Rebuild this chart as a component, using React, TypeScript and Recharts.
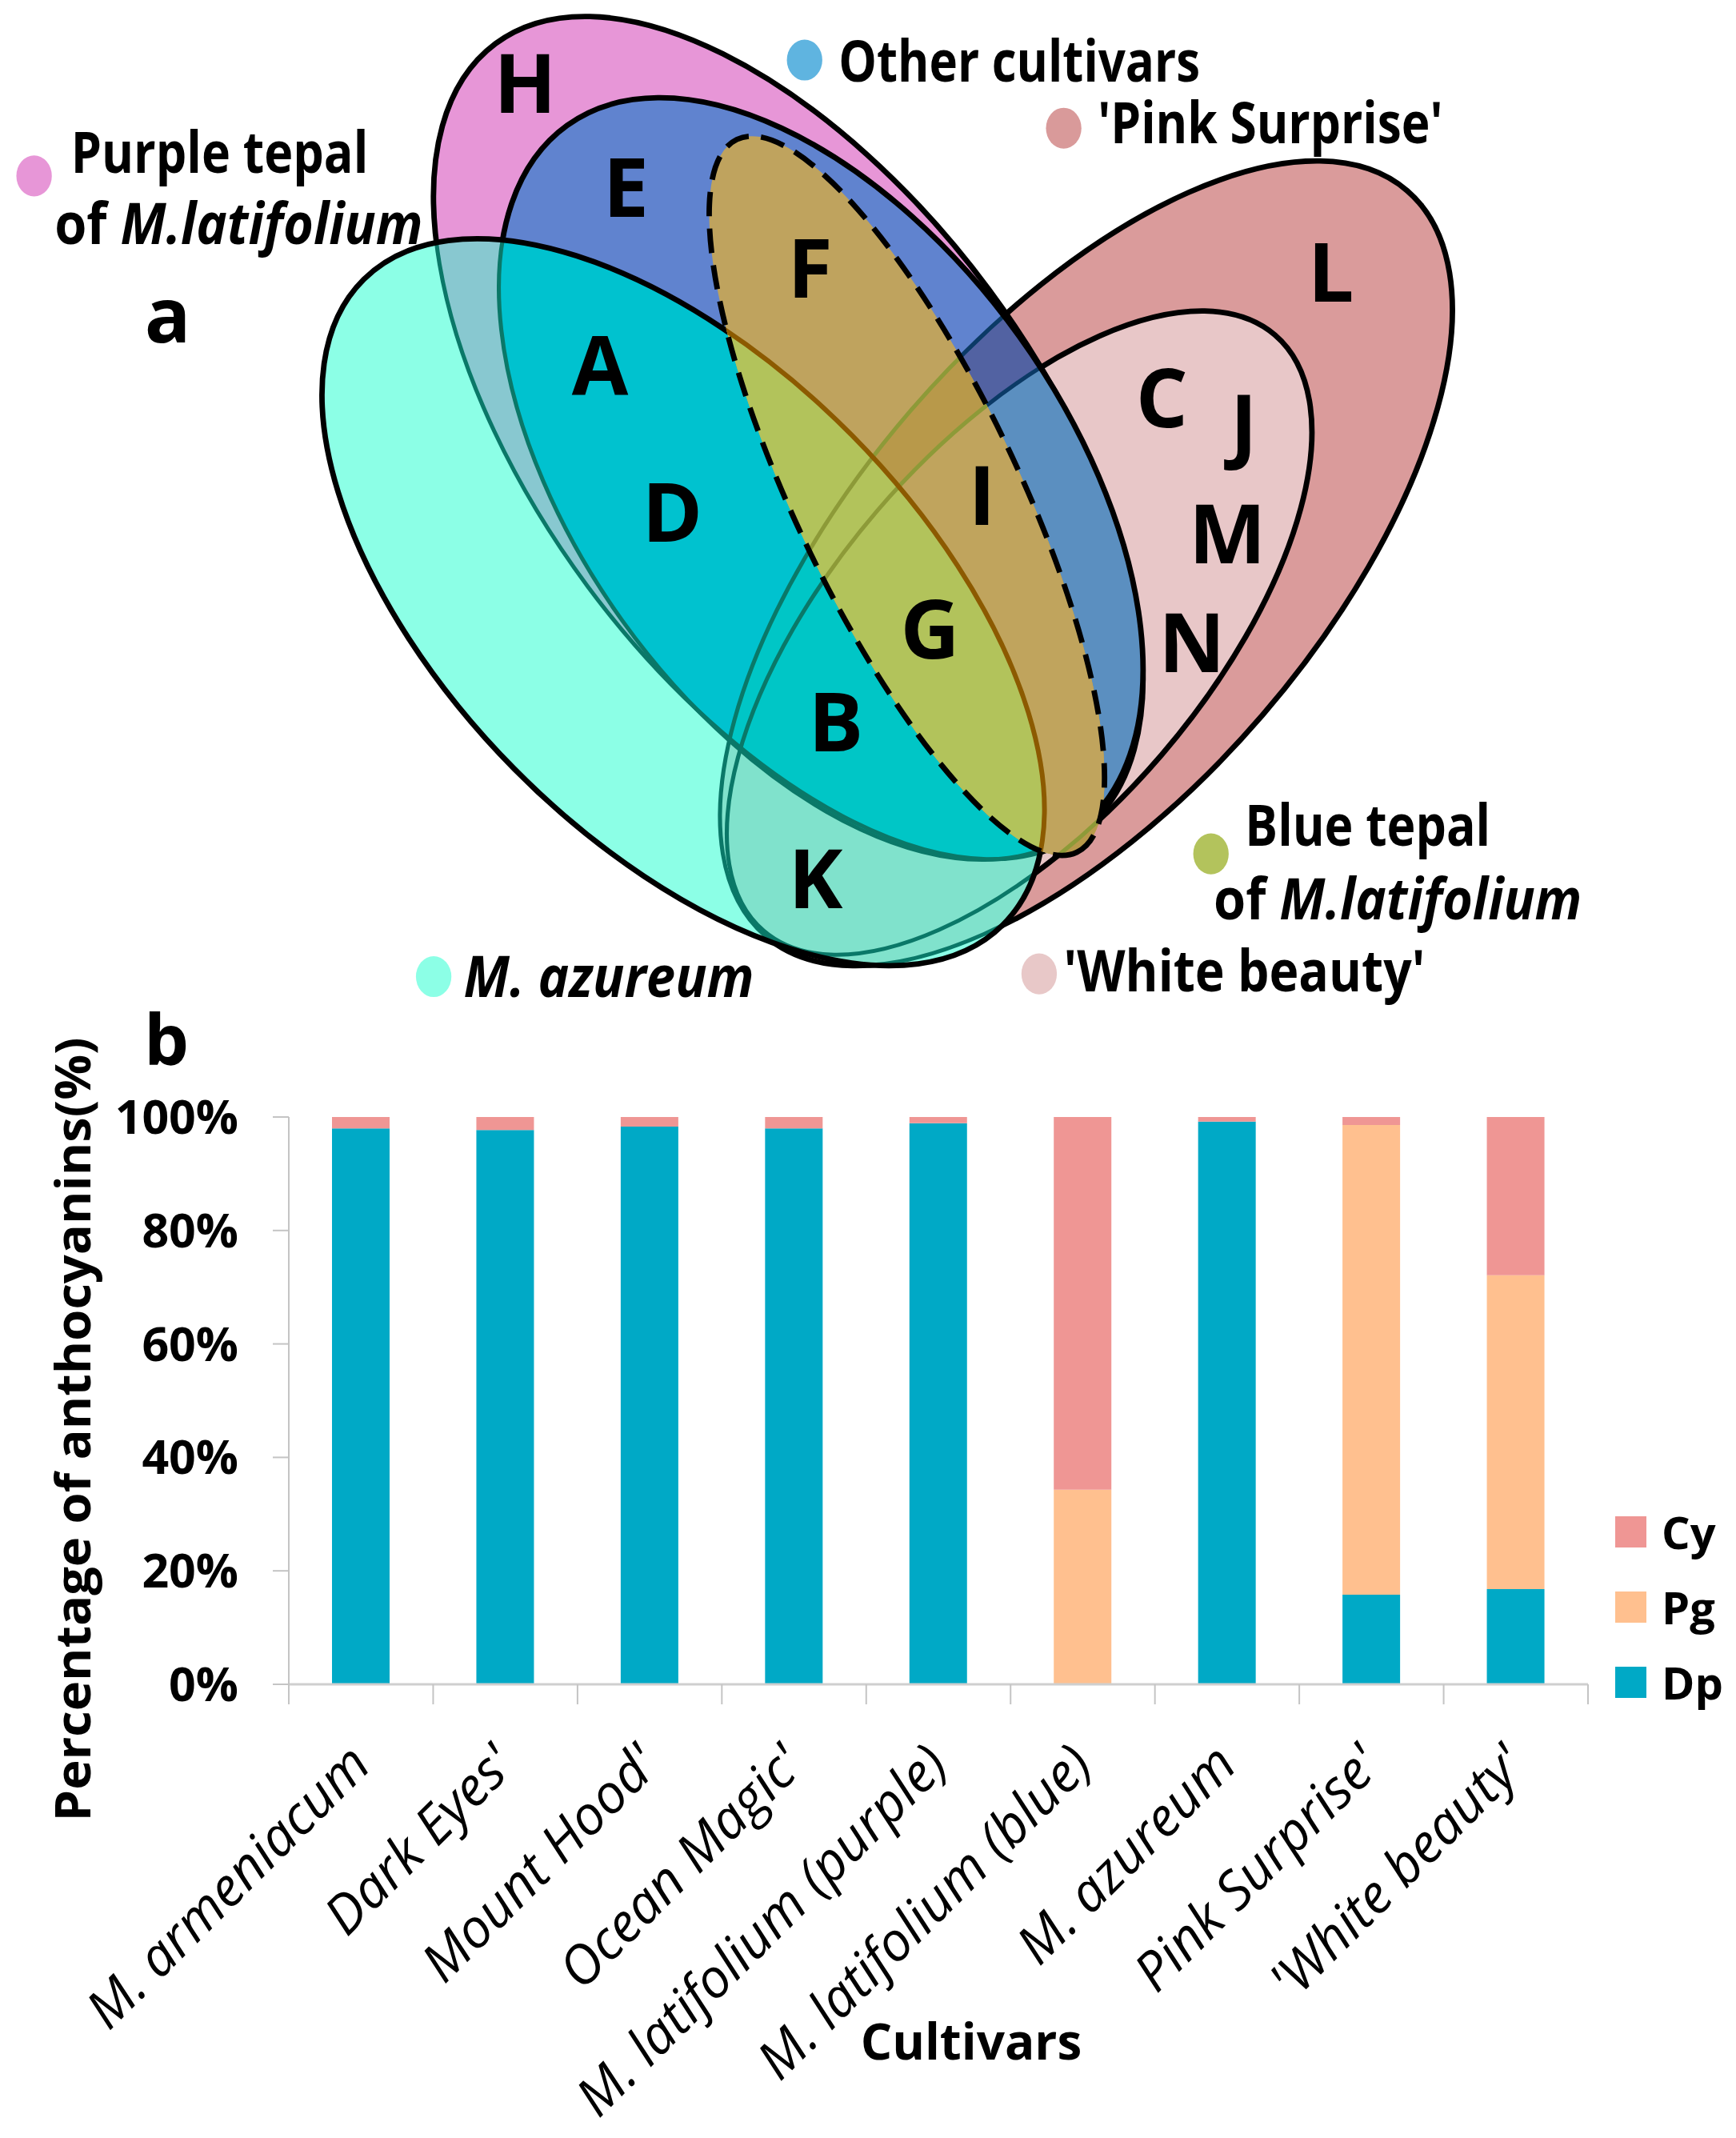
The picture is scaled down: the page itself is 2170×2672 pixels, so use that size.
import React from "react";
import { BarChart, Bar, XAxis, YAxis, Legend } from "recharts";

const cultivars = [
  "M. armeniacum",
  "Dark Eyes'",
  "Mount Hood'",
  "Ocean Magic'",
  "M. latifolium (purple)",
  "M. latifolium (blue)",
  "M. azureum",
  "Pink Surprise'",
  "'White beauty'",
];
const dpShare = [98.0, 97.7, 98.3, 98.0, 98.9, 0, 99.2, 15.8, 16.8];
const pgShare = [0, 0, 0, 0, 0, 34.3, 0, 82.8, 55.3];
const cyShare = [2.0, 2.3, 1.7, 2.0, 1.1, 65.7, 0.8, 1.4, 27.9];
const percentTicks = [0, 20, 40, 60, 80, 100];

const COLORS: Record<string, string> = { Dp: "#00a9c6", Pg: "#ffc08f", Cy: "#ef9694" };
const FONT = "'Open Sans', 'DejaVu Sans', sans-serif";

const chartData = cultivars.map((name, i) => ({
  name,
  Dp: dpShare[i],
  Pg: pgShare[i],
  Cy: cyShare[i],
}));

// plot box of panel b, page pixels
const PLOT_LEFT = 361;
const PLOT_RIGHT = 1985;
const PLOT_TOP = 1396;
const PLOT_BOTTOM = 2105;
const BAND = (PLOT_RIGHT - PLOT_LEFT) / cultivars.length;

// panel a was measured on the 1273 px wide preview, S brings it to page pixels
const S = 2170 / 1273;

type Oval = { cx: number; cy: number; rx: number; ry: number; rot: number };
const pinkSurprise: Oval = { cx: 796.5, cy: 413, rx: 360.6, ry: 170.6, rot: -49.25 };
const whiteBeauty: Oval = { cx: 747.5, cy: 464, rx: 287.8, ry: 137.4, rot: -49.35 };
const purpleTepal: Oval = { cx: 578, cy: 321, rx: 360, ry: 183, rot: 53.4 };
const otherCultivars: Oval = { cx: 602, cy: 351, rx: 319, ry: 179, rot: 54.3 };
const azureum: Oval = { cx: 501, cy: 441.5, rx: 333, ry: 174, rot: 45.3 };
const blueTepal: Oval = { cx: 665, cy: 363.5, rx: 289.5, ry: 82, rot: 64.5 };

const vennLetters: [string, number, number][] = [
  ["H", 385, 62], ["E", 459, 138], ["F", 594, 197], ["A", 440, 268],
  ["D", 493, 376], ["I", 720, 364], ["G", 682, 462], ["B", 613, 530],
  ["K", 598, 645], ["L", 976, 200], ["C", 852, 292], ["J", 912, 311],
  ["M", 900, 392], ["N", 874, 472],
];

const SW = 4 * S;
const LW = 3 * S;

function O({ o, ...rest }: { o: Oval } & React.SVGProps<SVGEllipseElement>) {
  const cx = o.cx * S;
  const cy = o.cy * S;
  return (
    <ellipse
      cx={cx}
      cy={cy}
      rx={o.rx * S}
      ry={o.ry * S}
      transform={`rotate(${o.rot} ${cx} ${cy})`}
      {...rest}
    />
  );
}

function Clipped({ ids, children }: { ids: string[]; children: React.ReactNode }) {
  let inner: React.ReactNode = children;
  for (let i = ids.length - 1; i >= 0; i--) {
    inner = <g clipPath={`url(#${ids[i]})`}>{inner}</g>;
  }
  return <>{inner}</>;
}

const Paint = ({ fill }: { fill: string }) => (
  <rect x={0} y={0} width={2170} height={1300} fill={fill} />
);

function Dot({ x, y, fill }: { x: number; y: number; fill: string }) {
  return <ellipse cx={x * S} cy={y * S} rx={13 * S} ry={15 * S} fill={fill} />;
}

function Caption({
  x, y, w, size = 42, italic = false, anchor = "start", children,
}: {
  x: number; y: number; w?: number; size?: number; italic?: boolean;
  anchor?: "start" | "middle"; children: React.ReactNode;
}) {
  return (
    <text
      x={x * S}
      y={y * S}
      fontSize={size * S}
      fontFamily={FONT}
      fontWeight={700}
      fontStyle={italic ? "italic" : "normal"}
      textAnchor={anchor}
      fill="#000"
      textLength={w ? w * S : undefined}
      lengthAdjust={w ? "spacingAndGlyphs" : undefined}
    >
      {children}
    </text>
  );
}

function Venn() {
  return (
    <svg
      width={2170}
      height={1400}
      style={{ position: "absolute", left: 0, top: 0, pointerEvents: "none" }}
    >
      <defs>
        <clipPath id="cPS"><O o={pinkSurprise} /></clipPath>
        <clipPath id="cWB"><O o={whiteBeauty} /></clipPath>
        <clipPath id="cPT"><O o={purpleTepal} /></clipPath>
        <clipPath id="cOC"><O o={otherCultivars} /></clipPath>
        <clipPath id="cAZ"><O o={azureum} /></clipPath>
        <clipPath id="cBT"><O o={blueTepal} /></clipPath>
      </defs>

      {/* pink cultivars */}
      <O o={pinkSurprise} fill="#da9b9b" stroke="#000" strokeWidth={SW} />
      <O o={whiteBeauty} fill="#e8c7c8" stroke="#000" strokeWidth={SW} />

      {/* purple tepal */}
      <O o={purpleTepal} fill="#e796d7" stroke="#000" strokeWidth={SW} />

      {/* other cultivars */}
      <O o={otherCultivars} fill="#6083cf" />
      <Clipped ids={["cOC", "cPS"]}><Paint fill="#5262a2" /></Clipped>
      <Clipped ids={["cOC", "cWB"]}><Paint fill="#5b8fc0" /></Clipped>
      <Clipped ids={["cOC"]}>
        <O o={pinkSurprise} fill="none" stroke="#0b3a66" strokeWidth={LW} />
        <O o={whiteBeauty} fill="none" stroke="#0b3a66" strokeWidth={LW} />
      </Clipped>
      <O o={otherCultivars} fill="none" stroke="#000" strokeWidth={SW} />

      {/* M. azureum */}
      <O o={azureum} fill="#8cffe6" />
      <Clipped ids={["cAZ", "cPS"]}><Paint fill="#80e2cc" /></Clipped>
      <Clipped ids={["cAZ", "cPT"]}><Paint fill="#88c8d0" /></Clipped>
      <Clipped ids={["cAZ", "cOC"]}><Paint fill="#00c2cf" /></Clipped>
      <Clipped ids={["cAZ", "cOC", "cPS"]}><Paint fill="#00c6c6" /></Clipped>
      <Clipped ids={["cAZ"]}>
        <O o={pinkSurprise} fill="none" stroke="#0a7868" strokeWidth={LW} />
        <O o={whiteBeauty} fill="none" stroke="#0a7868" strokeWidth={LW} />
        <O o={purpleTepal} fill="none" stroke="#0a7868" strokeWidth={LW} />
        <O o={otherCultivars} fill="none" stroke="#0a7868" strokeWidth={LW} />
      </Clipped>
      <O o={azureum} fill="none" stroke="#000" strokeWidth={SW} />

      {/* blue tepal */}
      <O o={blueTepal} fill="#bfa35e" />
      <Clipped ids={["cBT", "cPS"]}><Paint fill="#b8994a" /></Clipped>
      <Clipped ids={["cBT", "cWB"]}><Paint fill="#c0a45d" /></Clipped>
      <Clipped ids={["cBT", "cAZ"]}><Paint fill="#b2c35b" /></Clipped>
      <Clipped ids={["cBT"]}>
        <O o={pinkSurprise} fill="none" stroke="#8d9a38" strokeWidth={LW} />
        <O o={whiteBeauty} fill="none" stroke="#8d9a38" strokeWidth={LW} />
        <O o={azureum} fill="none" stroke="#8c5a00" strokeWidth={3.5 * S} />
      </Clipped>
      <O
        o={blueTepal}
        fill="none"
        stroke="#000"
        strokeWidth={SW}
        strokeDasharray={`${18 * S} ${9 * S}`}
      />

      {vennLetters.map(([t, x, y]) => (
        <Caption key={t} x={x} y={y + 21} size={60} anchor="middle">
          {t}
        </Caption>
      ))}

      {/* legend of panel a */}
      <Dot x={25} y={129} fill="#e796d7" />
      <Caption x={52} y={127} w={218}>Purple tepal</Caption>
      <Caption x={40} y={179} w={270}>
        of <tspan fontStyle="italic">M.latifolium</tspan>
      </Caption>
      <Dot x={590} y={44} fill="#5fb4e0" />
      <Caption x={615} y={60} w={265}>Other cultivars</Caption>
      <Dot x={780} y={94} fill="#d99a9a" />
      <Caption x={805} y={105} w={253}>'Pink Surprise'</Caption>
      <Dot x={888} y={626} fill="#b3c35c" />
      <Caption x={913} y={620} w={180}>Blue tepal</Caption>
      <Caption x={890} y={674} w={270}>
        of <tspan fontStyle="italic">M.latifolium</tspan>
      </Caption>
      <Dot x={318} y={716} fill="#8cffe6" />
      <Caption x={340} y={731} w={213} italic>M. azureum</Caption>
      <Dot x={762} y={714} fill="#e8c8c8" />
      <Caption x={780} y={727} w={265}>'White beauty'</Caption>

      <Caption x={123} y={251} size={56} anchor="middle">a</Caption>
      <Caption x={122} y={781} size={52} anchor="middle">b</Caption>
    </svg>
  );
}

function CultivarTick(props: any) {
  const { x, y, payload, index } = props;
  const last = index === cultivars.length - 1;
  return (
    <g>
      <line x1={x - BAND / 2} x2={x - BAND / 2} y1={y} y2={y + 25} stroke="#c4c4c4" strokeWidth={2} />
      {last && (
        <line x1={x + BAND / 2} x2={x + BAND / 2} y1={y} y2={y + 25} stroke="#c4c4c4" strokeWidth={2} />
      )}
      <text
        transform={`translate(${x + 15},${y + 104}) rotate(-45)`}
        textAnchor="end"
        fontFamily={FONT}
        fontStyle="italic"
        fontSize={67}
        fill="#000"
      >
        {payload.value}
      </text>
    </g>
  );
}

function LegendBox() {
  const items = ["Cy", "Pg", "Dp"];
  return (
    <div style={{ display: "flex", flexDirection: "column" }}>
      {items.map((k) => (
        <div key={k} style={{ height: 94, display: "flex", alignItems: "center" }}>
          <div style={{ width: 39, height: 39, background: COLORS[k], marginRight: 19 }} />
          <span style={{ fontFamily: FONT, fontWeight: 700, fontSize: 56, color: "#000" }}>{k}</span>
        </div>
      ))}
    </div>
  );
}

export default function App() {
  return (
    <div style={{ position: "relative", width: 2170, height: 2672, background: "#fff" }}>
      <style>{`body{margin:0;background:#fff}`}</style>
      <div style={{ position: "absolute", left: 0, top: 0 }}>
        <BarChart
          width={2170}
          height={2672}
          data={chartData}
          margin={{ top: PLOT_TOP, right: 2170 - PLOT_RIGHT, bottom: 2672 - PLOT_BOTTOM - 420, left: PLOT_LEFT - 200 }}
          barSize={72}
        >
          <XAxis
            dataKey="name"
            height={420}
            interval={0}
            tickLine={false}
            tickSize={0}
            tickMargin={0}
            axisLine={{ stroke: "#cfcfcf", strokeWidth: 3 }}
            tick={(p: any) => <CultivarTick {...p} />}
            label={() => (
              <text x={1214} y={2574} textAnchor="middle" fontFamily={FONT} fontWeight={700} fontSize={62} fill="#000">
                Cultivars
              </text>
            )}
          />
          <YAxis
            width={200}
            domain={[0, 100]}
            ticks={percentTicks}
            interval={0}
            tickSize={20}
            tickMargin={43}
            tickLine={{ stroke: "#c4c4c4", strokeWidth: 2 }}
            axisLine={{ stroke: "#c4c4c4", strokeWidth: 2 }}
            tickFormatter={(v: number) => `${v}%`}
            tick={{ fontFamily: FONT, fontWeight: 700, fontSize: 59, fill: "#000" }}
            label={() => (
              <text
                transform={`translate(113,${(PLOT_TOP + PLOT_BOTTOM) / 2 + 36}) rotate(-90)`}
                textAnchor="middle"
                fontFamily={FONT}
                fontWeight={700}
                fontSize={61}
                textLength={980}
                lengthAdjust="spacingAndGlyphs"
                fill="#000"
              >
                Percentage of anthocyanins(%)
              </text>
            )}
          />
          <Legend
            layout="horizontal"
            verticalAlign="middle"
            align="center"
            content={() => <LegendBox />}
            wrapperStyle={{ left: 2019, top: 1867, width: 150, height: 290 }}
          />
          <Bar dataKey="Dp" stackId="s" fill={COLORS.Dp} isAnimationActive={false} />
          <Bar dataKey="Pg" stackId="s" fill={COLORS.Pg} isAnimationActive={false} />
          <Bar dataKey="Cy" stackId="s" fill={COLORS.Cy} isAnimationActive={false} />
        </BarChart>
      </div>
      <Venn />
    </div>
  );
}
